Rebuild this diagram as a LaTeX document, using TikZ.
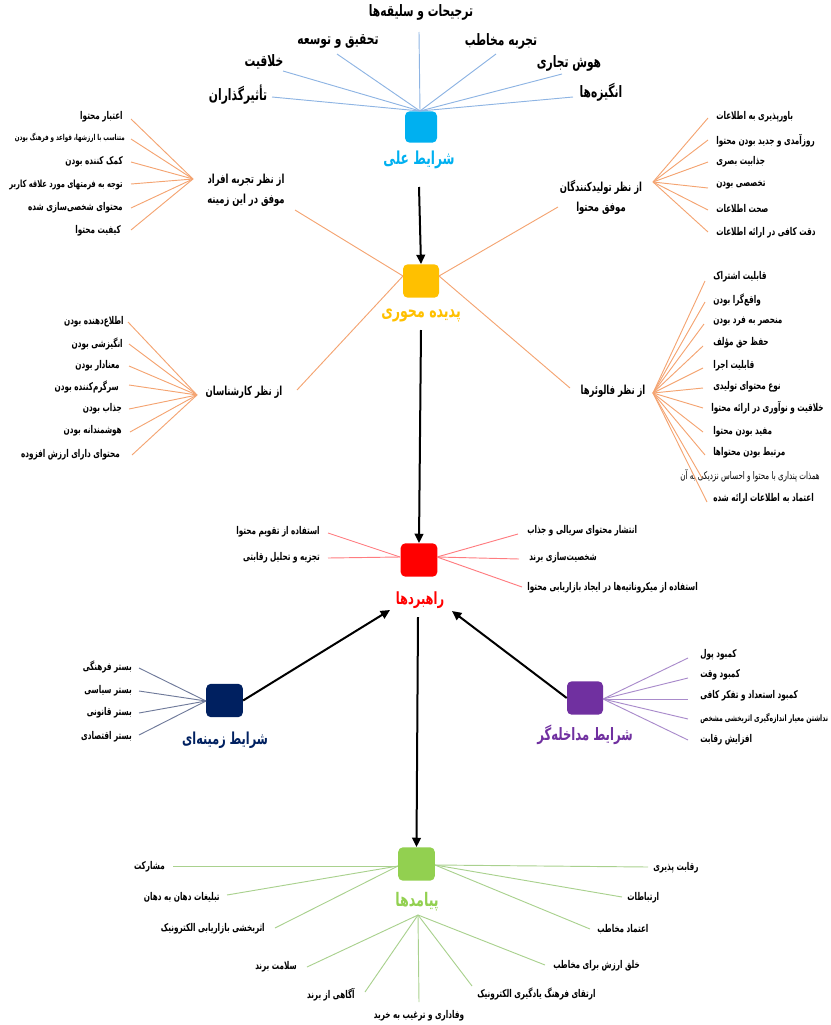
\documentclass[tikz,border=0pt]{standalone}
\usepackage{fontspec}
\usetikzlibrary{arrows.meta}
\TeXXeTstate=1
\newfontfamily\fa[Script=Arabic,FakeStretch=0.68]{DejaVu Sans}
\newcommand\prs[1]{\beginR #1\endR}
\newcommand\fs[1]{\fontsize{#1}{#1}\selectfont}
\definecolor{cblue}{HTML}{00B0F0}
\definecolor{lblue}{HTML}{8EB4E3}
\definecolor{cyel}{HTML}{FFC000}
\definecolor{lor}{HTML}{F4A472}
\definecolor{cred}{HTML}{FF0000}
\definecolor{lred}{HTML}{FF7C80}
\definecolor{cnavy}{HTML}{002060}
\definecolor{lnavy}{HTML}{6F7A9A}
\definecolor{cpurp}{HTML}{7030A0}
\definecolor{lpurp}{HTML}{A98BCB}
\definecolor{cgreen}{HTML}{92D050}
\definecolor{lgreen}{HTML}{A9D18E}
\begin{document}
\begin{tikzpicture}[x=0.75pt,y=-0.75pt,
  box/.style={rounded corners=3.5pt, minimum width=27pt, minimum height=25pt, inner sep=0},
  headlbl/.style={font=\fa\bfseries\fs{13}, inner sep=0},
  toplbl/.style={font=\fa\bfseries\fs{11.8}, inner sep=0},
  sublbl/.style={font=\fa\bfseries\fontsize{9.3}{15}\selectfont, inner sep=0, align=center},
  itm/.style={font=\fa\bfseries\fs{8}, inner sep=0},
  itemL/.style={itm, anchor=east},
  itemR/.style={itm, anchor=west},
  lnb/.style={lblue, line width=0.7pt},
  lno/.style={lor, line width=0.7pt},
  lnr/.style={lred, line width=0.7pt},
  lnn/.style={lnavy, line width=0.7pt},
  lnp/.style={lpurp, line width=0.7pt},
  lng/.style={lgreen, line width=0.7pt},
  arr/.style={line width=1.5pt, -{Triangle[length=7pt,width=6.5pt]}},
]
\useasboundingbox (0,0) rectangle (831,1025);

% ---------------- causal conditions (blue)
\node[box, fill=cblue, minimum width=24pt, minimum height=23.5pt] (bA) at (421,127) {};
\node[headlbl, font=\fa\bfseries\fs{13.4}, text=cblue] (lA) at (419,160) {\prs{شرایط علی}};
\coordinate (hA) at (420,111);
\node[toplbl] (t1) at (421,12) {\prs{ترجیحات و سلیقه‌ها}};
\node[toplbl] (t2) at (338,41) {\prs{تحقیق و توسعه}};
\node[toplbl] (t3) at (501,41) {\prs{تجربه مخاطب}};
\node[toplbl] (t4) at (264,62) {\prs{خلاقیت}};
\node[toplbl] (t5) at (569,63) {\prs{هوش تجاری}};
\node[toplbl] (t6) at (238,95) {\prs{تأثیرگذاران}};
\node[toplbl] (t7) at (601,92) {\prs{انگیزه‌ها}};
\coordinate (e1) at (419,32);
\coordinate (e2) at (337,54);
\coordinate (e3) at (496,54);
\coordinate (e4) at (283,71);
\coordinate (e5) at (562,74);
\coordinate (e6) at (272,97);
\coordinate (e7) at (573,97);
\foreach \i in {1,...,7} \draw[lnb] (hA) -- (e\i);

% ---------------- central phenomenon (yellow)
\node[box, fill=cyel] (bB) at (421,281) {};
\node[headlbl, font=\fa\bfseries\fs{13.9}, text=cyel] (lB) at (421,315) {\prs{پدیده محوری}};
\coordinate (hBl) at (403,276);
\coordinate (hBr) at (439,276);
\coordinate (gA) at (295,210);
\coordinate (gB) at (558,207);
\coordinate (gC) at (297,390);
\coordinate (gD) at (570,388);
\draw[lno] (hBl) -- (gA);
\draw[lno] (hBl) -- (gC);
\draw[lno] (hBr) -- (gB);
\draw[lno] (hBr) -- (gD);

% group A: successful people
\node[sublbl] (sA) at (246,190) {\prs{از نظر تجربه افراد}\\\prs{موفق در این زمینه}};
\coordinate (hSA) at (193,179);
\node[itemL] (a1) at (123,117) {\prs{اعتبار محتوا}};
\node[itemL, font=\fa\bfseries\fs{6.1}] (a2) at (125,138) {\prs{متناسب با ارزشها، قواعد و فرهنگ بودن}};
\node[itemL] (a3) at (123,162) {\prs{کمک کننده بودن}};
\node[itemL, font=\fa\bfseries\fs{7.4}] (a4) at (123,185) {\prs{توجه به فرمتهای مورد علاقه کاربر}};
\node[itemL] (a5) at (123,208) {\prs{محتوای شخصی‌سازی شده}};
\node[itemL] (a6) at (121,231) {\prs{کیفیت محتوا}};
\coordinate (ea1) at (131,119);
\coordinate (ea2) at (131,139);
\coordinate (ea3) at (131,162);
\coordinate (ea4) at (131,184);
\coordinate (ea5) at (131,208);
\coordinate (ea6) at (131,230);
\foreach \i in {1,...,6} \draw[lno] (hSA) -- (ea\i);

% group B: content producers
\node[sublbl] (sB) at (601,197) {\prs{از نظر تولیدکنندگان}\\\prs{موفق محتوا}};
\coordinate (hSB) at (653,182);
\node[itemR] (b1) at (716,117) {\prs{باورپذیری به اطلاعات}};
\node[itemR] (b2) at (716,141) {\prs{روزآمدی و جدید بودن محتوا}};
\node[itemR] (b3) at (716,162) {\prs{جذابیت بصری}};
\node[itemR] (b4) at (716,185) {\prs{تخصصی بودن}};
\node[itemR] (b5) at (716,209) {\prs{صحت اطلاعات}};
\node[itemR] (b6) at (716,233) {\prs{دقت کافی در ارائه اطلاعات}};
\coordinate (eb1) at (708,118);
\coordinate (eb2) at (708,140);
\coordinate (eb3) at (708,162);
\coordinate (eb4) at (708,188);
\coordinate (eb5) at (708,210);
\coordinate (eb6) at (708,232);
\foreach \i in {1,...,6} \draw[lno] (hSB) -- (eb\i);

% group C: experts
\node[sublbl] (sC) at (244,392) {\prs{از نظر کارشناسان}};
\coordinate (hSC) at (197,395);
\node[itemL] (c1) at (124,322) {\prs{اطلاع‌دهنده بودن}};
\node[itemL] (c2) at (123,344) {\prs{انگیزشی بودن}};
\node[itemL] (c3) at (120,366) {\prs{معنادار بودن}};
\node[itemL] (c4) at (119,387) {\prs{سرگرم‌کننده بودن}};
\node[itemL] (c5) at (122,409) {\prs{جذاب بودن}};
\node[itemL] (c6) at (122,431) {\prs{هوشمندانه بودن}};
\node[itemL] (c7) at (120,455) {\prs{محتوای دارای ارزش افزوده}};
\coordinate (ec1) at (128,322);
\coordinate (ec2) at (129,344);
\coordinate (ec3) at (129,366);
\coordinate (ec4) at (129,385);
\coordinate (ec5) at (129,409);
\coordinate (ec6) at (130,432);
\coordinate (ec7) at (132,455);
\foreach \i in {1,...,7} \draw[lno] (hSC) -- (ec\i);

% group D: followers
\node[sublbl] (sD) at (613,391) {\prs{از نظر فالوئرها}};
\coordinate (hSD) at (653,393);
\node[itemR] (d1) at (713,277) {\prs{قابلیت اشتراک}};
\node[itemR] (d2) at (713,300) {\prs{واقع‌گرا بودن}};
\node[itemR] (d3) at (713,321) {\prs{منحصر به فرد بودن}};
\node[itemR] (d4) at (713,343) {\prs{حفظ حق مؤلف}};
\node[itemR] (d5) at (713,366) {\prs{قابلیت اجرا}};
\node[itemR] (d6) at (713,387) {\prs{نوع محتوای تولیدی}};
\node[itemR] (d7) at (711,408) {\prs{خلاقیت و نوآوری در ارائه محتوا}};
\node[itemR] (d8) at (713,432) {\prs{مفید بودن محتوا}};
\node[itemR] (d9) at (713,453) {\prs{مرتبط بودن محتواها}};
\node[itemR, font=\fa\fs{7.9}] (d10) at (680,476) {\prs{همذات پنداری با محتوا و احساس نزدیکی به آن}};
\node[itemR] (d11) at (713,499) {\prs{اعتماد به اطلاعات ارائه شده}};
\coordinate (ed1) at (705,281);
\coordinate (ed2) at (705,302);
\coordinate (ed3) at (704,324);
\coordinate (ed4) at (703,346);
\coordinate (ed5) at (703,368);
\coordinate (ed6) at (703,388);
\coordinate (ed7) at (703,408);
\coordinate (ed8) at (703,432);
\coordinate (ed9) at (705,455);
\coordinate (ed10) at (702,478);
\coordinate (ed11) at (707,502);
\foreach \i in {1,...,11} \draw[lno] (hSD) -- (ed\i);

% ---------------- strategies (red)
\node[box, fill=cred, minimum width=27.5pt] (bR) at (419,560) {};
\node[headlbl, font=\fa\bfseries\fs{12.6}, text=cred] (lR) at (420,600) {\prs{راهبردها}};
\coordinate (hRl) at (400,557);
\coordinate (hRr) at (437,557);
\node[itemL] (r1) at (320,532) {\prs{استفاده از تقویم محتوا}};
\node[itemL] (r2) at (320,558) {\prs{تجزیه و تحلیل رقابتی}};
\node[itemR] (r3) at (527,531) {\prs{انتشار محتوای سریالی و جذاب}};
\node[itemR] (r4) at (529,558) {\prs{شخصیت‌سازی برند}};
\node[itemR] (r5) at (527,588) {\prs{استفاده از میکروناتیه‌ها در ایجاد بازاریابی محتوا}};
\coordinate (er1) at (328,533);
\coordinate (er2) at (328,558);
\coordinate (er3) at (518,534);
\coordinate (er4) at (519,559);
\coordinate (er5) at (522,587);
\draw[lnr] (hRl) -- (er1);
\draw[lnr] (hRl) -- (er2);
\draw[lnr] (hRr) -- (er3);
\draw[lnr] (hRr) -- (er4);
\draw[lnr] (hRr) -- (er5);

% ---------------- contextual conditions (navy)
\node[box, fill=cnavy, minimum width=27.5pt] (bN) at (224.5,700.5) {};
\node[headlbl, font=\fa\bfseries\fs{12.4}, text=cnavy] (lN) at (225,740) {\prs{شرایط زمینه‌ای}};
\coordinate (hN) at (206,701);
\node[itemL] (n1) at (132,667) {\prs{بستر فرهنگی}};
\node[itemL] (n2) at (132,691) {\prs{بستر سیاسی}};
\node[itemL] (n3) at (132,713) {\prs{بستر قانونی}};
\node[itemL] (n4) at (132,737) {\prs{بستر اقتصادی}};
\coordinate (en1) at (139,668);
\coordinate (en2) at (139,691);
\coordinate (en3) at (139,713);
\coordinate (en4) at (139,735);
\foreach \i in {1,...,4} \draw[lnn] (hN) -- (en\i);

% ---------------- intervening conditions (purple)
\node[box, fill=cpurp] (bP) at (585,698) {};
\node[headlbl, font=\fa\bfseries\fs{12.8}, text=cpurp] (lP) at (585,735) {\prs{شرایط مداخله‌گر}};
\coordinate (hP) at (603,699);
\node[itemR] (p1) at (700,655) {\prs{کمبود پول}};
\node[itemR] (p2) at (700,675) {\prs{کمبود وقت}};
\node[itemR] (p3) at (700,696) {\prs{کمبود استعداد و تفکر کافی}};
\node[itemR, font=\fa\bfseries\fs{6.7}] (p4) at (700,719) {\prs{نداشتن معیار اندازه‌گیری اثربخشی مشخص}};
\node[itemR] (p5) at (700,740) {\prs{افزایش رقابت}};
\coordinate (ep1) at (688,658);
\coordinate (ep2) at (688,678);
\coordinate (ep3) at (688,699);
\coordinate (ep4) at (688,719);
\coordinate (ep5) at (688,740);
\foreach \i in {1,...,5} \draw[lnp] (hP) -- (ep\i);

% ---------------- consequences (green)
\node[box, fill=cgreen, minimum width=27.5pt] (bG) at (416.5,864) {};
\node[headlbl, font=\fa\bfseries\fs{14}, text=cgreen] (lG) at (417,902) {\prs{پیامدها}};
\coordinate (hGl) at (398,866);
\coordinate (hGr) at (435,865);
\coordinate (hGb) at (418,915);
\node[itemL] (g1) at (165,867) {\prs{مشارکت}};
\node[itemL] (g2) at (220,897) {\prs{تبلیغات دهان به دهان}};
\node[itemL] (g3) at (265,929) {\prs{اثربخشی بازاریابی الکترونیک}};
\node[itemL] (g4) at (297,967) {\prs{سلامت برند}};
\node[itemL] (g5) at (355,995) {\prs{آگاهی از برند}};
\node[itm] (g6) at (419,1016) {\prs{وفاداری و ترغیب به خرید}};
\node[itemR] (g7) at (477,994) {\prs{ارتقای فرهنگ یادگیری الکترونیک}};
\node[itemR] (g8) at (553,966) {\prs{خلق ارزش برای مخاطب}};
\node[itemR] (g9) at (653,868) {\prs{رقابت پذیری}};
\node[itemR] (g10) at (627,898) {\prs{ارتباطات}};
\node[itemR] (g11) at (597,929) {\prs{اعتماد مخاطب}};
\coordinate (eg1) at (173,866);
\coordinate (eg2) at (227,895);
\coordinate (eg3) at (275,928);
\coordinate (eg4) at (307,967);
\coordinate (eg5) at (365,992);
\coordinate (eg6) at (419,1002);
\coordinate (eg7) at (472,986);
\coordinate (eg8) at (545,965);
\coordinate (eg9) at (648,867);
\coordinate (eg10) at (622,897);
\coordinate (eg11) at (590,929);
\foreach \i in {1,2,3} \draw[lng] (hGl) -- (eg\i);
\foreach \i in {4,...,8} \draw[lng] (hGb) -- (eg\i);
\foreach \i in {9,10,11} \draw[lng] (hGr) -- (eg\i);

% ---------------- main arrows
\coordinate (aA) at (419,187);
\coordinate (aB) at (421,330);
\coordinate (aC) at (418,617);
\coordinate (tN) at (390,610);
\coordinate (tP) at (452,611);
\draw[arr] (aA) -- (bB.north);
\draw[arr] (aB) -- (bR.north);
\draw[arr] (aC) -- (bG.north);
\draw[arr] (bN.east) -- (tN);
\draw[arr] (bP.west) -- (tP);
\end{tikzpicture}
\end{document}
